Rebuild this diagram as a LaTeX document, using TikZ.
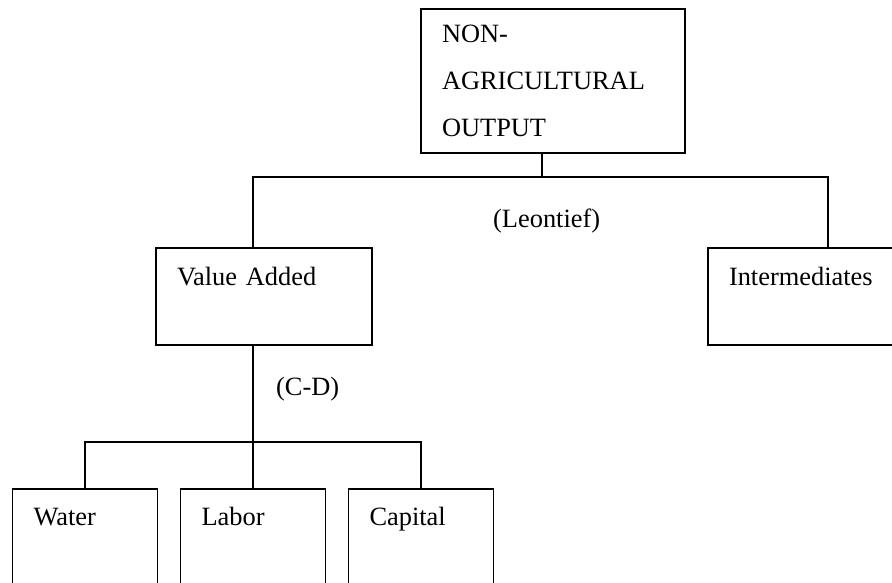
\documentclass[tikz,border=0pt]{standalone}
\usepackage{fontspec}
\setmainfont{Liberation Serif}

\tikzset{
  box/.style={draw, line width=1.5pt, outer sep=0pt, anchor=north west, inner xsep=21pt, inner ysep=0pt,
    align=left, font=\fontsize{26.4}{47}\selectfont},
  tag/.style={anchor=base west, inner sep=0pt, font=\fontsize{26.4}{47}\selectfont},
  link/.style={line width=1.5pt}
}

\begin{document}
\begin{tikzpicture}[x=1pt,y=-1pt]
\clip (0,0) rectangle (892,583);
%top box:
\node[box, text width=222pt, text height=34pt, text depth=110pt] (output) at (421,9) {NON-\\AGRICULTURAL\\OUTPUT};
%middle row:
\node[box, text width=174pt, text height=37pt, text depth=60pt] (valueadded) at (156,248) {Value Added};
\node[box, text width=198pt, text height=37pt, text depth=60pt] (inter) at (708,248) {Intermediates};
\node[tag] (leontief) at (493,227) {(Leontief)};
%bottom row:
\node[box, text width=103pt, text height=36pt, text depth=80pt] (water) at (12.5,489) {Water};
\node[box, text width=103pt, text height=36pt, text depth=80pt] (labor) at (180.5,489) {Labor};
\node[box, text width=103pt, text height=36pt, text depth=80pt] (capital) at (348.5,489) {Capital};
\node[tag] (cd) at (276,395) {(C-D)};
%links:
\coordinate (topbus) at (542,177);
\coordinate (lowbus) at (253,442);
\draw[link] ([xshift=-11pt]output.south) -- (topbus);
\draw[link] ([xshift=-11pt]valueadded.north) |- (topbus) -| (inter.north);
\draw[link] ([xshift=-11pt]valueadded.south) -- (lowbus);
\draw[link] (water.north) |- (lowbus) -| (capital.north);
\draw[link] (lowbus) -- (labor.north);
\end{tikzpicture}
\end{document}
